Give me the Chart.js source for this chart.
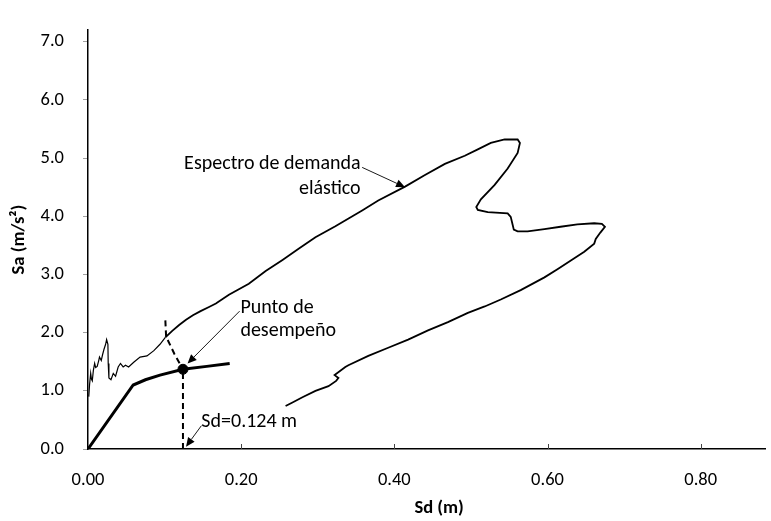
<!DOCTYPE html>
<html>
<head>
<meta charset="utf-8">
<script src="https://cdn.jsdelivr.net/npm/chart.js@4.4.1/dist/chart.umd.min.js"></script>
<style>
  html, body { margin: 0; padding: 0; background: #fff; }
  #wrap { width: 771px; height: 521px; }
</style>
</head>
<body>
<div id="wrap"><canvas id="c" width="771" height="521"></canvas></div>
<script>
// Elastic demand spectrum (Sd in m, Sa in m/s²), traced in drawing order
const demandSd = [0.001,0.002,0.0035,0.0045,0.0056,0.007,0.0087,0.010,0.012,0.014,0.015,0.0173,0.019,0.0208,0.023,0.0243,0.026,0.0264,0.0273,0.030,0.033,0.036,0.0394,0.0424,0.0459,0.049,0.053,0.0597,0.068,0.077,0.086,0.094,0.101,0.110,0.119,0.128,0.137,0.147,0.158,0.167,0.184,0.210,0.232,0.254,0.275,0.297,0.323,0.358,0.379,0.414,0.440,0.466,0.492,0.509,0.526,0.544,0.561,0.564,0.561,0.548,0.531,0.513,0.507,0.509,0.522,0.548,0.552,0.554,0.556,0.561,0.574,0.596,0.617,0.639,0.661,0.671,0.675,0.669,0.663,0.661,0.648,0.635,0.613,0.596,0.565,0.539,0.518,0.496,0.470,0.444,0.418,0.392,0.366,0.340,0.336,0.322,0.327,0.324,0.314,0.297,0.280,0.267,0.258];
const demandSa = [0.90,1.10,1.30,1.20,1.17,1.35,1.47,1.40,1.42,1.52,1.58,1.52,1.62,1.71,1.80,1.88,1.80,1.47,1.22,1.19,1.30,1.25,1.41,1.47,1.41,1.44,1.41,1.49,1.58,1.60,1.69,1.80,1.92,2.03,2.13,2.22,2.30,2.37,2.44,2.50,2.65,2.84,3.06,3.25,3.44,3.64,3.83,4.10,4.27,4.51,4.71,4.90,5.04,5.15,5.26,5.32,5.32,5.26,5.09,4.82,4.54,4.29,4.16,4.11,4.07,4.05,3.99,3.88,3.77,3.74,3.74,3.78,3.82,3.86,3.88,3.87,3.82,3.72,3.61,3.53,3.39,3.28,3.09,2.95,2.73,2.57,2.45,2.34,2.18,2.04,1.88,1.74,1.60,1.44,1.41,1.27,1.22,1.17,1.08,1.00,0.89,0.80,0.74];

// Capacity curve
const capacitySd = [0, 0.059, 0.075, 0.094, 0.124, 0.155, 0.185];
const capacitySa = [0, 1.10, 1.19, 1.27, 1.37, 1.42, 1.47];

// Performance point and its guide lines
const perfSd = [0.124];
const perfSa = [1.37];
const dropSd = [0.124, 0.124];
const dropSa = [0, 1.37];
const reducedSd = [0.101, 0.102, 0.113, 0.124];
const reducedSa = [2.21, 1.93, 1.63, 1.37];

// Axis tick values
const xTicks = [0, 0.2, 0.4, 0.6, 0.8];
const yTicks = [0, 1, 2, 3, 4, 5, 6, 7];

const pts = (xs, ys) => xs.map((x, i) => ({ x, y: ys[i] }));

const FONT = "Carlito, Lato, 'Open Sans', sans-serif";

// Callout texts and leader arrows, placed in data units
const callouts = [
  { lines: ['Espectro de demanda', 'elástico'], x: 0.356, ys: [4.89, 4.47], align: 'right' },
  { lines: ['Punto de', 'desempeño'], x: 0.199, ys: [2.43, 2.03], align: 'left' },
  { lines: ['Sd=0.124 m'], x: 0.148, ys: [0.46], align: 'left' }
];
const leaders = [
  { from: [0.358, 4.84], to: [0.414, 4.50] },
  { from: [0.198, 2.37], to: [0.130, 1.47] },
  { from: [0.148, 0.40], to: [0.128, 0.04] }
];
// Horizontal axis title, centred on the full plot width (which runs past the right edge)
const xTitle = { text: 'Sd (m)', at: 0.4585, below: 59 };

const calloutPlugin = {
  id: 'callouts',
  afterDatasetsDraw(chart) {
    const { ctx, scales: { x, y } } = chart;
    ctx.save();
    // inward tick marks on the Sd axis
    ctx.strokeStyle = '#444';
    ctx.lineWidth = 1;
    const base = Math.round(y.getPixelForValue(0));
    xTicks.slice(1).forEach(v => {
      const px = Math.round(x.getPixelForValue(v)) + 0.5;
      ctx.beginPath();
      ctx.moveTo(px, base);
      ctx.lineTo(px, base - 5);
      ctx.stroke();
    });
    // leader arrows
    ctx.strokeStyle = '#000';
    ctx.fillStyle = '#000';
    ctx.lineWidth = 0.9;
    leaders.forEach(a => {
      const x0 = x.getPixelForValue(a.from[0]), y0 = y.getPixelForValue(a.from[1]);
      const x1 = x.getPixelForValue(a.to[0]), y1 = y.getPixelForValue(a.to[1]);
      const ang = Math.atan2(y1 - y0, x1 - x0);
      const L = 9, W = 4;
      const bx = x1 - L * Math.cos(ang), by = y1 - L * Math.sin(ang);
      ctx.beginPath();
      ctx.moveTo(x0, y0);
      ctx.lineTo(bx, by);
      ctx.stroke();
      ctx.beginPath();
      ctx.moveTo(x1, y1);
      ctx.lineTo(bx + W * Math.sin(ang), by - W * Math.cos(ang));
      ctx.lineTo(bx - W * Math.sin(ang), by + W * Math.cos(ang));
      ctx.closePath();
      ctx.fill();
    });
    // callout text
    ctx.font = '20px ' + FONT;
    ctx.textBaseline = 'middle';
    ctx.fillStyle = '#000';
    callouts.forEach(c => {
      ctx.textAlign = c.align;
      c.lines.forEach((t, i) => {
        ctx.fillText(t, x.getPixelForValue(c.x), y.getPixelForValue(c.ys[i]));
      });
    });
    // Sd axis title
    ctx.font = 'bold 18.5px ' + FONT;
    ctx.textAlign = 'center';
    ctx.fillText(xTitle.text, x.getPixelForValue(xTitle.at), x.top + xTitle.below);
    ctx.restore();
  }
};

new Chart(document.getElementById('c'), {
  type: 'scatter',
  data: {
    datasets: [
      {
        data: pts(demandSd, demandSa), showLine: true, borderColor: '#000', borderWidth: 1.8,
        pointRadius: 0, tension: 0, order: 4,
        segment: { borderWidth: c => (c.p0DataIndex < 32 ? 1.2 : 1.8) }
      },
      { data: pts(capacitySd, capacitySa), showLine: true, borderColor: '#000', borderWidth: 3, pointRadius: 0, tension: 0, order: 3 },
      { data: pts(dropSd, dropSa), showLine: true, borderColor: '#000', borderWidth: 2, borderDash: [6, 4], pointRadius: 0, order: 2 },
      { data: pts(reducedSd, reducedSa), showLine: true, borderColor: '#000', borderWidth: 2, borderDash: [6, 4], pointRadius: 0, order: 2 },
      { data: pts(perfSd, perfSa), showLine: false, pointRadius: 5, pointBackgroundColor: '#000', pointBorderColor: '#000', order: 1 }
    ]
  },
  options: {
    responsive: false,
    animation: false,
    devicePixelRatio: 1,
    layout: { padding: { top: 13, right: 0, bottom: 0, left: 0 } },
    plugins: { legend: { display: false }, tooltip: { enabled: false } },
    scales: {
      x: {
        type: 'linear',
        min: 0,
        max: 0.884,
        afterBuildTicks: s => { s.ticks = xTicks.map(v => ({ value: v })); },
        afterFit: s => { s.height = 72; },
        border: { display: true, color: '#000', width: 1.5 },
        grid: { display: false, drawTicks: false },
        ticks: {
          padding: 20,
          color: '#000',
          font: { family: FONT, size: 18.5 },
          callback: v => v.toFixed(2)
        },
        title: { display: false }
      },
      y: {
        type: 'linear',
        min: 0,
        max: 7.2,
        afterBuildTicks: s => { s.ticks = yTicks.map(v => ({ value: v })); },
        afterFit: s => { s.width = 88; },
        border: { display: true, color: '#000', width: 1.5 },
        grid: { display: true, drawOnChartArea: false, drawTicks: true, tickLength: 5, tickColor: '#a0a0a0' },
        ticks: {
          padding: 19,
          color: '#000',
          font: { family: FONT, size: 18.5 },
          callback: v => v.toFixed(1)
        },
        title: { display: true, text: 'Sa (m/s²)', color: '#000', font: { family: FONT, size: 18.5, weight: 'bold' }, padding: { top: 8, bottom: 0 } }
      }
    }
  },
  plugins: [calloutPlugin]
});
</script>
</body>
</html>
